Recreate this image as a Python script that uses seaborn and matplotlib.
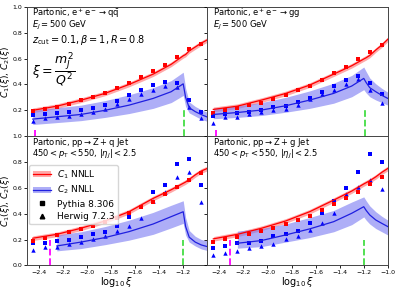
import matplotlib
matplotlib.use("Agg")
import matplotlib.pyplot as plt
from matplotlib.patches import Patch
from matplotlib.lines import Line2D
import numpy as np
import seaborn as sns

# marker positions (log10 xi)
xi_pts = [-2.45, -2.35, -2.25, -2.15, -2.05, -1.95, -1.85, -1.75, -1.65, -1.55, -1.45, -1.35, -1.25, -1.15, -1.05]
# NNLL curve sample points (log10 xi)
xi_curve = [-2.45, -2.25, -2.05, -1.85, -1.65, -1.45, -1.3, -1.2, -1.18, -1.15, -1.1, -1.05, -1.0]
nan = np.nan

# ---- e+e- -> q qbar
qq_c1 = [0.200, 0.232, 0.278, 0.331, 0.400, 0.480, 0.556, 0.622, 0.632, 0.660, 0.690, 0.720, 0.745]
qq_c2 = [0.132, 0.150, 0.168, 0.200, 0.240, 0.292, 0.344, 0.405, 0.300, 0.220, 0.190, 0.167, 0.148]
qq_c2_hi = [0.200, 0.220, 0.240, 0.275, 0.320, 0.375, 0.430, 0.495, 0.370, 0.265, 0.230, 0.205, 0.185]
qq_c2_lo = [0.090, 0.105, 0.120, 0.145, 0.175, 0.215, 0.260, 0.315, 0.230, 0.180, 0.155, 0.130, 0.115]
qq_py_c1 = [0.195, 0.209, 0.227, 0.250, 0.279, 0.302, 0.336, 0.370, 0.408, 0.455, 0.506, 0.550, 0.615, 0.672, 0.712]
qq_py_c2 = [0.163, 0.170, 0.176, 0.190, 0.202, 0.220, 0.245, 0.271, 0.318, 0.357, 0.395, 0.421, 0.408, 0.279, 0.187]
qq_hw_c2 = [0.117, 0.140, 0.150, 0.155, 0.174, 0.189, 0.214, 0.248, 0.284, 0.323, 0.357, 0.388, 0.377, 0.222, 0.140]

# ---- e+e- -> g g
gg_c1 = [0.207, 0.232, 0.279, 0.330, 0.395, 0.480, 0.545, 0.597, 0.607, 0.625, 0.667, 0.705, 0.750]
gg_c2 = [0.168, 0.183, 0.202, 0.235, 0.279, 0.331, 0.388, 0.447, 0.415, 0.375, 0.344, 0.316, 0.292]
gg_c2_hi = [0.215, 0.235, 0.260, 0.300, 0.350, 0.410, 0.470, 0.535, 0.500, 0.450, 0.405, 0.370, 0.340]
gg_c2_lo = [0.135, 0.145, 0.160, 0.185, 0.215, 0.255, 0.305, 0.360, 0.335, 0.305, 0.280, 0.260, 0.240]
gg_py_c1 = [0.183, 0.200, 0.220, 0.240, 0.260, 0.289, 0.318, 0.357, 0.390, 0.434, 0.486, 0.537, 0.594, 0.654, 0.705]
gg_py_c2 = [0.155, 0.168, 0.180, 0.190, 0.202, 0.227, 0.232, 0.266, 0.292, 0.344, 0.390, 0.434, 0.465, 0.413, 0.323]
gg_hw_c2 = [0.105, 0.145, 0.145, 0.170, 0.190, 0.200, 0.214, 0.245, 0.284, 0.330, 0.360, 0.403, 0.440, 0.357, 0.260]

# ---- pp -> Z + q jet
zq_c1 = [0.210, 0.240, 0.287, 0.343, 0.415, 0.518, 0.585, 0.635, 0.645, 0.665, 0.700, 0.730, 0.750]
zq_c2 = [nan, 0.150, 0.180, 0.215, 0.261, 0.320, 0.377, 0.415, 0.300, 0.218, 0.180, 0.158, 0.145]
zq_c2_hi = [nan, 0.235, 0.260, 0.300, 0.350, 0.410, 0.465, 0.500, 0.370, 0.270, 0.225, 0.200, 0.190]
zq_c2_lo = [nan, 0.112, 0.130, 0.160, 0.195, 0.240, 0.290, 0.325, 0.235, 0.180, 0.150, 0.127, 0.115]
zq_py_c1 = [0.192, 0.210, 0.235, 0.256, 0.279, 0.305, 0.333, 0.369, 0.408, 0.452, 0.493, 0.550, 0.604, 0.660, 0.717]
zq_py_c2 = [0.171, 0.176, 0.192, 0.197, 0.218, 0.241, 0.261, 0.307, 0.377, 0.454, 0.570, 0.622, 0.781, 0.820, 0.620]
zq_hw_c2 = [0.120, 0.140, 0.140, 0.164, 0.184, 0.202, 0.230, 0.266, 0.307, 0.369, 0.498, 0.570, 0.681, 0.724, 0.488]

# ---- pp -> Z + g jet
zg_c1 = [0.205, 0.240, 0.287, 0.343, 0.415, 0.505, 0.575, 0.630, 0.640, 0.655, 0.685, 0.720, 0.750]
zg_c2 = [nan, 0.171, 0.192, 0.235, 0.282, 0.338, 0.403, 0.454, 0.425, 0.390, 0.351, 0.325, 0.300]
zg_c2_hi = [nan, 0.265, 0.285, 0.320, 0.370, 0.425, 0.490, 0.530, 0.500, 0.460, 0.415, 0.380, 0.350]
zg_c2_lo = [nan, 0.133, 0.145, 0.180, 0.215, 0.260, 0.315, 0.375, 0.350, 0.320, 0.285, 0.260, 0.235]
zg_py_c1 = [0.184, 0.202, 0.222, 0.240, 0.266, 0.292, 0.320, 0.351, 0.385, 0.428, 0.472, 0.518, 0.570, 0.627, 0.681]
zg_py_c2 = [0.133, 0.150, 0.176, 0.176, 0.192, 0.228, 0.241, 0.266, 0.326, 0.408, 0.498, 0.600, 0.720, 0.861, 0.802]
zg_hw_c2 = [0.081, 0.094, 0.112, 0.133, 0.150, 0.166, 0.202, 0.228, 0.274, 0.331, 0.403, 0.549, 0.609, 0.660, 0.588]

c1_band = 0.018  # half width of the C1 band

# dashed markers: (x, height) per panel
magenta_x = [-2.43, -2.43, -2.31, -2.31]
magenta_h = [0.05, 0.05, 0.2, 0.2]
green_x = [-1.19, -1.19, -1.2, -1.2]
green_h = [0.2, 0.2, 0.2, 0.2]

titles = [
    [r"Partonic, $\mathrm{e^+e^-\to q\bar{q}}$", r"$E_J = 500$ GeV"],
    [r"Partonic, $\mathrm{e^+e^-\to gg}$", r"$E_J = 500$ GeV"],
    [r"Partonic, $\mathrm{pp\to Z + q}$ Jet", r"$450 < p_\mathrm{T} < 550$, $|\eta_J| < 2.5$"],
    [r"Partonic, $\mathrm{pp\to Z + g}$ Jet", r"$450 < p_\mathrm{T} < 550$, $|\eta_J| < 2.5$"],
]

panels = [
    (qq_c1, qq_c2, qq_c2_lo, qq_c2_hi, qq_py_c1, qq_py_c2, qq_hw_c2),
    (gg_c1, gg_c2, gg_c2_lo, gg_c2_hi, gg_py_c1, gg_py_c2, gg_hw_c2),
    (zq_c1, zq_c2, zq_c2_lo, zq_c2_hi, zq_py_c1, zq_py_c2, zq_hw_c2),
    (zg_c1, zg_c2, zg_c2_lo, zg_c2_hi, zg_py_c1, zg_py_c2, zg_hw_c2),
]

red = "#ff0000"
blue = "#1f1fe0"
red_fill = "#ff7070"
blue_fill = "#7878f2"

fig = plt.figure(figsize=(3.99, 2.90), dpi=100)
axes = fig.subplots(2, 2).flatten()
fig.subplots_adjust(left=0.067, right=0.972, top=0.976, bottom=0.085, hspace=0, wspace=0)

for i, ax in enumerate(axes):
    c1, c2, c2_lo, c2_hi, py1, py2, hw2 = panels[i]
    c1 = np.array(c1)
    ax.fill_between(xi_curve, c1 - c1_band, c1 + c1_band, color=red_fill, alpha=0.6, lw=0)
    ax.fill_between(xi_curve, c2_lo, c2_hi, color=blue_fill, alpha=0.6, lw=0)
    sns.lineplot(x=xi_curve, y=c1, color=red, lw=0.9, ax=ax)
    sns.lineplot(x=xi_curve, y=c2, color=blue, lw=0.9, ax=ax)
    sns.scatterplot(x=xi_pts, y=hw2, marker="^", color="blue", s=10, linewidth=0, ax=ax)
    sns.scatterplot(x=xi_pts, y=py2, marker="s", color="blue", s=9, linewidth=0, ax=ax)
    sns.scatterplot(x=xi_pts, y=py1, marker="s", color="red", s=9, linewidth=0, ax=ax)
    ax.vlines(magenta_x[i], 0, magenta_h[i], colors="magenta", linestyles="--", lw=1.3)
    ax.vlines(green_x[i], 0, green_h[i], colors="#44dd44", linestyles="--", lw=1.3)

    ax.set_xlim(-2.5, -1.0)
    ax.set_ylim(0, 1.0)
    ax.tick_params(labelsize=4.5, length=2, width=0.6, pad=1)
    for sp in ax.spines.values():
        sp.set_linewidth(0.7)
        sp.set_color("#444444")

    ax.text(0.03, 0.952, titles[i][0], transform=ax.transAxes, fontsize=6, va="center")
    ax.text(0.03, 0.858, titles[i][1], transform=ax.transAxes, fontsize=6, va="center")

    row, col = divmod(i, 2)
    if row == 0:
        ax.set_yticks([0.2, 0.4, 0.6, 0.8, 1.0])
        ax.set_xticks([-2.4, -2.2, -2.0, -1.8, -1.6, -1.4, -1.2])
        ax.set_xticklabels([])
    else:
        ax.set_yticks([0.0, 0.2, 0.4, 0.6, 0.8, 1.0])
        if col == 0:
            ax.set_xticks([-2.4, -2.2, -2.0, -1.8, -1.6, -1.4, -1.2])
        else:
            ax.set_xticks([-2.4, -2.2, -2.0, -1.8, -1.6, -1.4, -1.2, -1.0])
        ax.set_xlabel(r"$\log_{10}\xi$", fontsize=7, labelpad=0)
    if col == 0:
        ax.set_ylabel(r"$C_1(\xi)$, $C_2(\xi)$", fontsize=6.5)
        ax.yaxis.set_label_coords(-0.08, 0.5)
    else:
        ax.set_yticklabels([])
        ax.set_ylabel("")

axes[0].text(0.03, 0.745, r"$z_\mathrm{cut} = 0.1, \beta = 1, R = 0.8$",
             transform=axes[0].transAxes, fontsize=7, va="center")
axes[0].text(0.03, 0.51, r"$\xi = \dfrac{m_J^2}{Q^2}$",
             transform=axes[0].transAxes, fontsize=9, va="center")

handles = [
    (Patch(facecolor=red_fill, alpha=0.6, lw=0), Line2D([], [], color=red, lw=0.9)),
    (Patch(facecolor=blue_fill, alpha=0.6, lw=0), Line2D([], [], color=blue, lw=0.9)),
    Line2D([], [], ls="", marker="s", color="black", ms=3),
    Line2D([], [], ls="", marker="^", color="black", ms=3.3),
]
labels = [r"$C_1$ NNLL", r"$C_2$ NNLL", "Pythia 8.306", "Herwig 7.2.3"]
axes[2].legend(handles, labels, loc="upper left", bbox_to_anchor=(0.0, 0.8),
               fontsize=6.5, handlelength=2.0, borderpad=0.4, labelspacing=0.35,
               handletextpad=0.6, borderaxespad=0.3)

fig.savefig("out.png", dpi=100)
